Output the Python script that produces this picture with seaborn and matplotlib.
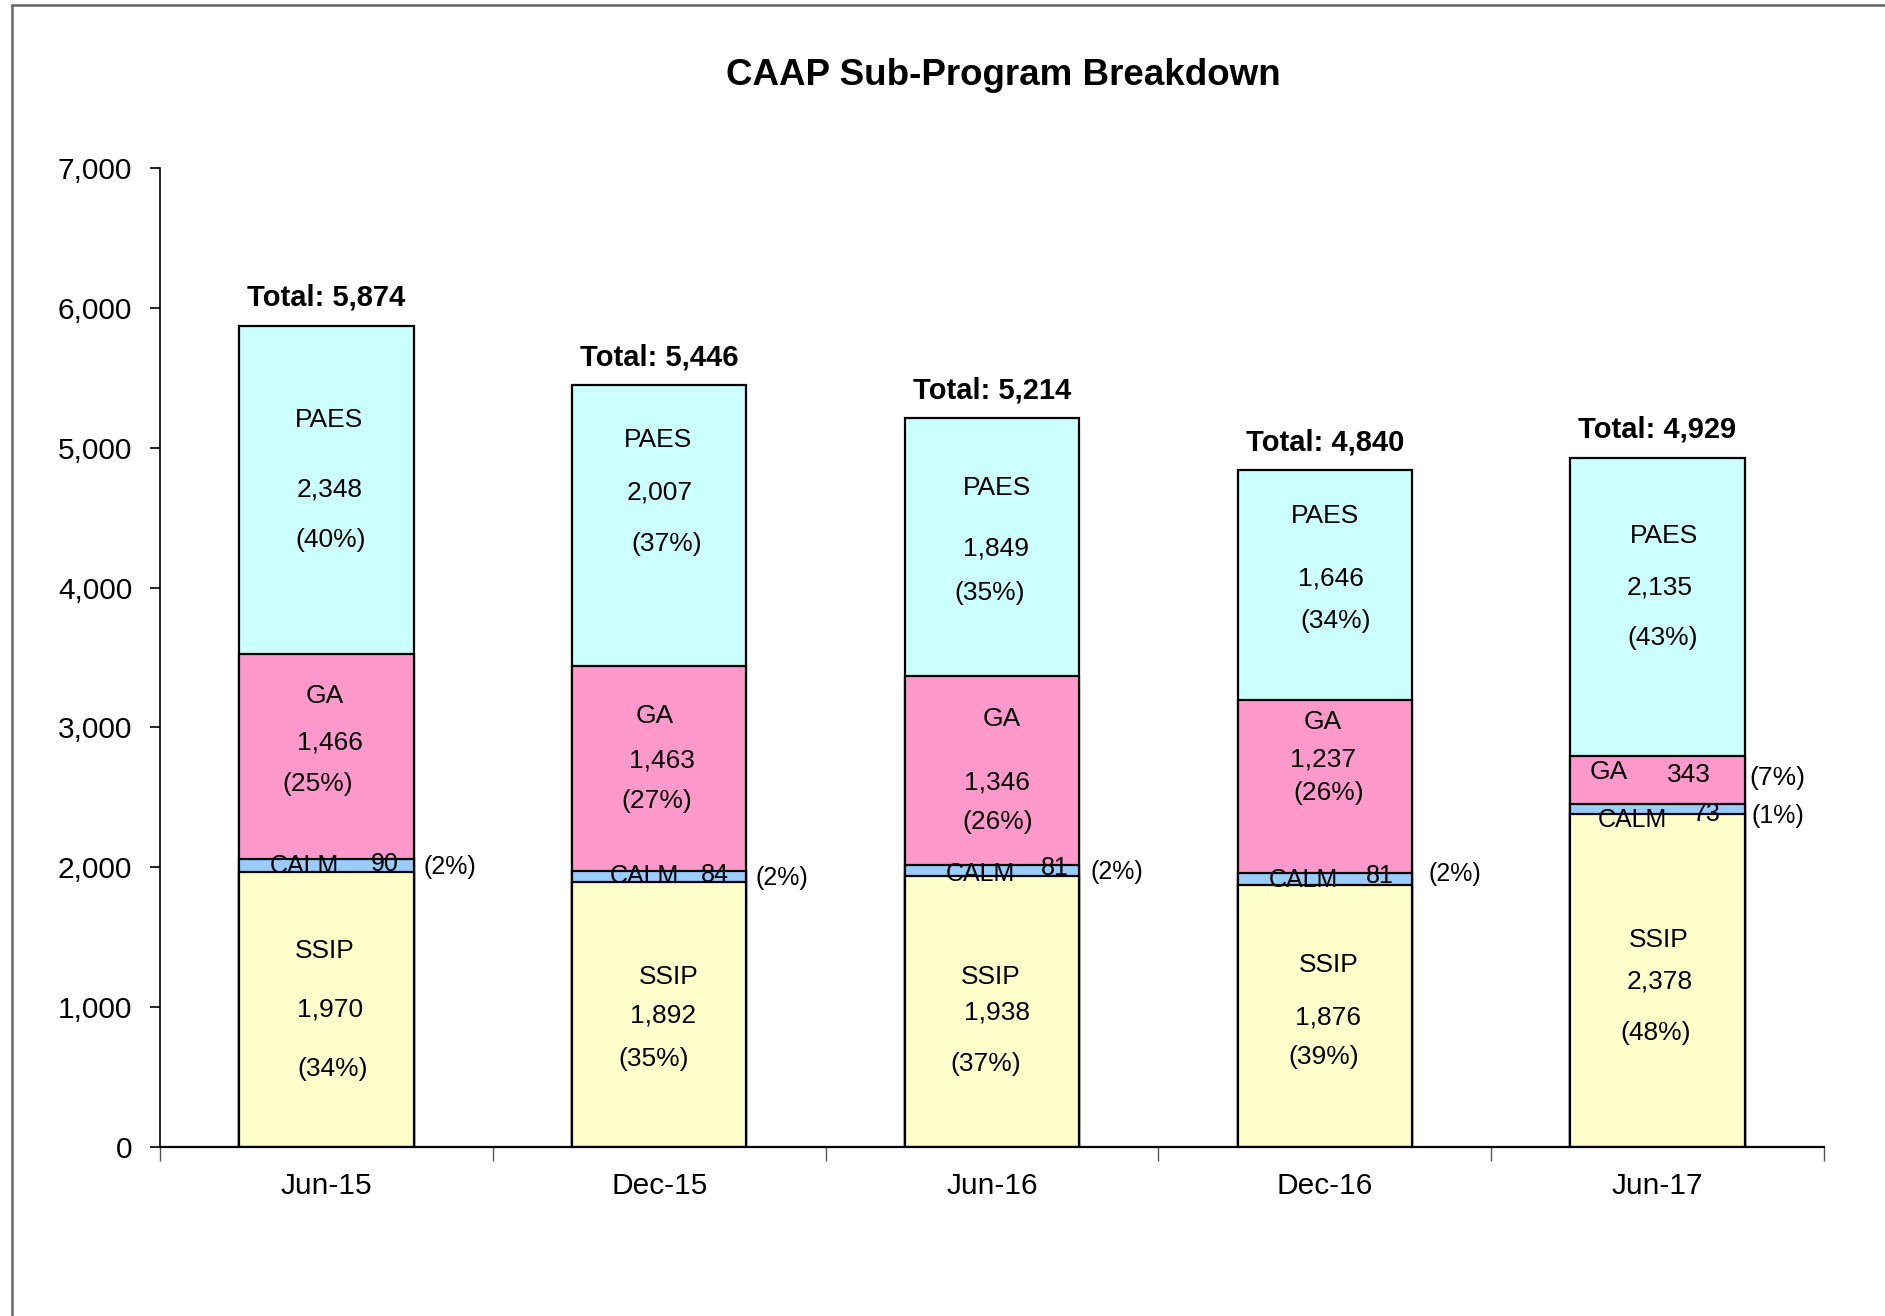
import matplotlib
matplotlib.use("Agg")
import matplotlib.pyplot as plt
from matplotlib.lines import Line2D
from matplotlib.ticker import FuncFormatter, FixedLocator
import seaborn as sns
import pandas as pd

# --- data -------------------------------------------------------------
periods = ["Jun-15", "Dec-15", "Jun-16", "Dec-16", "Jun-17"]
ssip = [1970, 1892, 1938, 1876, 2378]
calm = [90, 84, 81, 81, 73]
ga = [1466, 1463, 1346, 1237, 343]
paes = [2348, 2007, 1849, 1646, 2135]
ssip_pct = [34, 35, 37, 39, 48]
calm_pct = [2, 2, 2, 2, 1]
ga_pct = [25, 27, 26, 26, 7]
paes_pct = [40, 37, 35, 34, 43]

colors = {"SSIP": "#FFFFCC", "CALM": "#99CCFF", "GA": "#FF99CC", "PAES": "#CCFFFF"}

# hand placed label spots (dx in category units, y in data units) for name / value / pct
label_pos = {
    "PAES": [
        [(0.007, 5200), (0.011, 4700), (0.014, 4340)],
        [(-0.004, 5057), (0.0, 4678), (0.022, 4309)],
        [(0.014, 4713), (0.011, 4283), (-0.007, 3965)],
        [(0.0, 4515), (0.018, 4068), (0.033, 3758)],
        [(0.018, 4369), (0.007, 3999), (0.014, 3638)],
    ],
    "GA": [
        [(-0.004, 3225), (0.011, 2889), (-0.025, 2597)],
        [(-0.014, 3079), (0.007, 2761), (-0.007, 2477)],
        [(0.029, 3062), (0.014, 2606), (0.018, 2322)],
        [(-0.007, 3036), (-0.004, 2769), (0.011, 2528)],
        [(-0.148, 2683), (0.094, 2657), (0.361, 2640)],
    ],
    "CALM": [
        [(-0.066, 2012), (0.174, 2021), (0.37, 2004)],
        [(-0.045, 1935), (0.168, 1944), (0.368, 1926)],
        [(-0.036, 1952), (0.188, 1995), (0.376, 1969)],
        [(-0.065, 1909), (0.166, 1935), (0.39, 1952)],
        [(-0.076, 2339), (0.148, 2382), (0.361, 2365)],
    ],
    "SSIP": [
        [(-0.004, 1402), (0.011, 980), (0.018, 559)],
        [(0.029, 1213), (0.011, 937), (-0.018, 628)],
        [(-0.004, 1213), (0.014, 963), (-0.018, 593)],
        [(0.011, 1299), (0.011, 929), (-0.004, 645)],
        [(0.004, 1479), (0.007, 1187), (-0.007, 817)],
    ],
}

df = pd.DataFrame({"period": periods, "SSIP": ssip, "CALM": calm, "GA": ga, "PAES": paes})
df["lvl_ssip"] = df["SSIP"]
df["lvl_calm"] = df["lvl_ssip"] + df["CALM"]
df["lvl_ga"] = df["lvl_calm"] + df["GA"]
df["lvl_paes"] = df["lvl_ga"] + df["PAES"]

pcts = {"SSIP": ssip_pct, "CALM": calm_pct, "GA": ga_pct, "PAES": paes_pct}

sns.set_style("ticks")
plt.rcParams["font.family"] = ["Liberation Sans", "DejaVu Sans"]
plt.rcParams.update({
    "text.color": "black",
    "axes.labelcolor": "black",
    "axes.edgecolor": "black",
    "xtick.color": "black",
    "ytick.color": "black",
})

fig = plt.figure(figsize=(18.85, 13.16), dpi=100)
ax = fig.add_axes([0.0849, 0.1284, 0.8827, 0.7439])

# stacked bars: draw cumulative heights from tallest layer down
for col, prog in [("lvl_paes", "PAES"), ("lvl_ga", "GA"), ("lvl_calm", "CALM"), ("lvl_ssip", "SSIP")]:
    sns.barplot(data=df, x="period", y=col, color=colors[prog], saturation=1,
                edgecolor="black", linewidth=1.6, width=0.524, ax=ax, errorbar=None)

# segment labels
for prog in ["PAES", "GA", "CALM", "SSIP"]:
    size = 18 if prog == "CALM" else 19
    for i in range(len(periods)):
        texts = [prog, f"{df[prog][i]:,}", f"({pcts[prog][i]}%)"]
        for txt, (dx, y) in zip(texts, label_pos[prog][i]):
            ax.text(i + dx, y, txt, ha="center", va="center", fontsize=size, color="black")

# totals
for i, tot in enumerate(df["lvl_paes"]):
    ax.annotate(f"Total: {tot:,}", (i, tot), xytext=(0, 20), textcoords="offset points",
                ha="center", va="center", fontsize=21, fontweight="bold", color="black")

ax.set_xlim(-0.5, len(periods) - 0.5)
ax.set_ylim(0, 7000)
ax.set_yticks(range(0, 7001, 1000))
ax.yaxis.set_major_formatter(FuncFormatter(lambda v, p: f"{int(v):,}"))
ax.set_xlabel("")
ax.set_ylabel("")

ax.tick_params(axis="y", labelsize=21.5, length=7, width=1.2, pad=13, direction="out",
               colors="black")
ax.tick_params(axis="x", which="major", labelsize=21.5, length=0, pad=18, labelcolor="black")
ax.xaxis.set_minor_locator(FixedLocator([k - 0.5 for k in range(len(periods) + 1)]))
ax.tick_params(axis="x", which="minor", length=10, width=1.0, color="#555555", direction="out")

for side in ["top", "right"]:
    ax.spines[side].set_visible(False)
ax.spines["left"].set_linewidth(1.2)
ax.spines["bottom"].set_linewidth(1.6)
ax.spines["left"].set_color("black")
ax.spines["bottom"].set_color("black")

fig.text(0.532, 0.943, "CAAP Sub-Program Breakdown", ha="center", va="center",
         fontsize=26.5, fontweight="bold", color="black")

# outer frame (top and left edges only, as in the source)
fig.add_artist(Line2D([0.0064, 1.0], [0.9962, 0.9962], transform=fig.transFigure,
                      color="#666666", linewidth=1.8))
fig.add_artist(Line2D([0.0064, 0.0064], [0.0, 0.9962], transform=fig.transFigure,
                      color="#666666", linewidth=1.8))

fig.savefig("out.png", dpi=100)
